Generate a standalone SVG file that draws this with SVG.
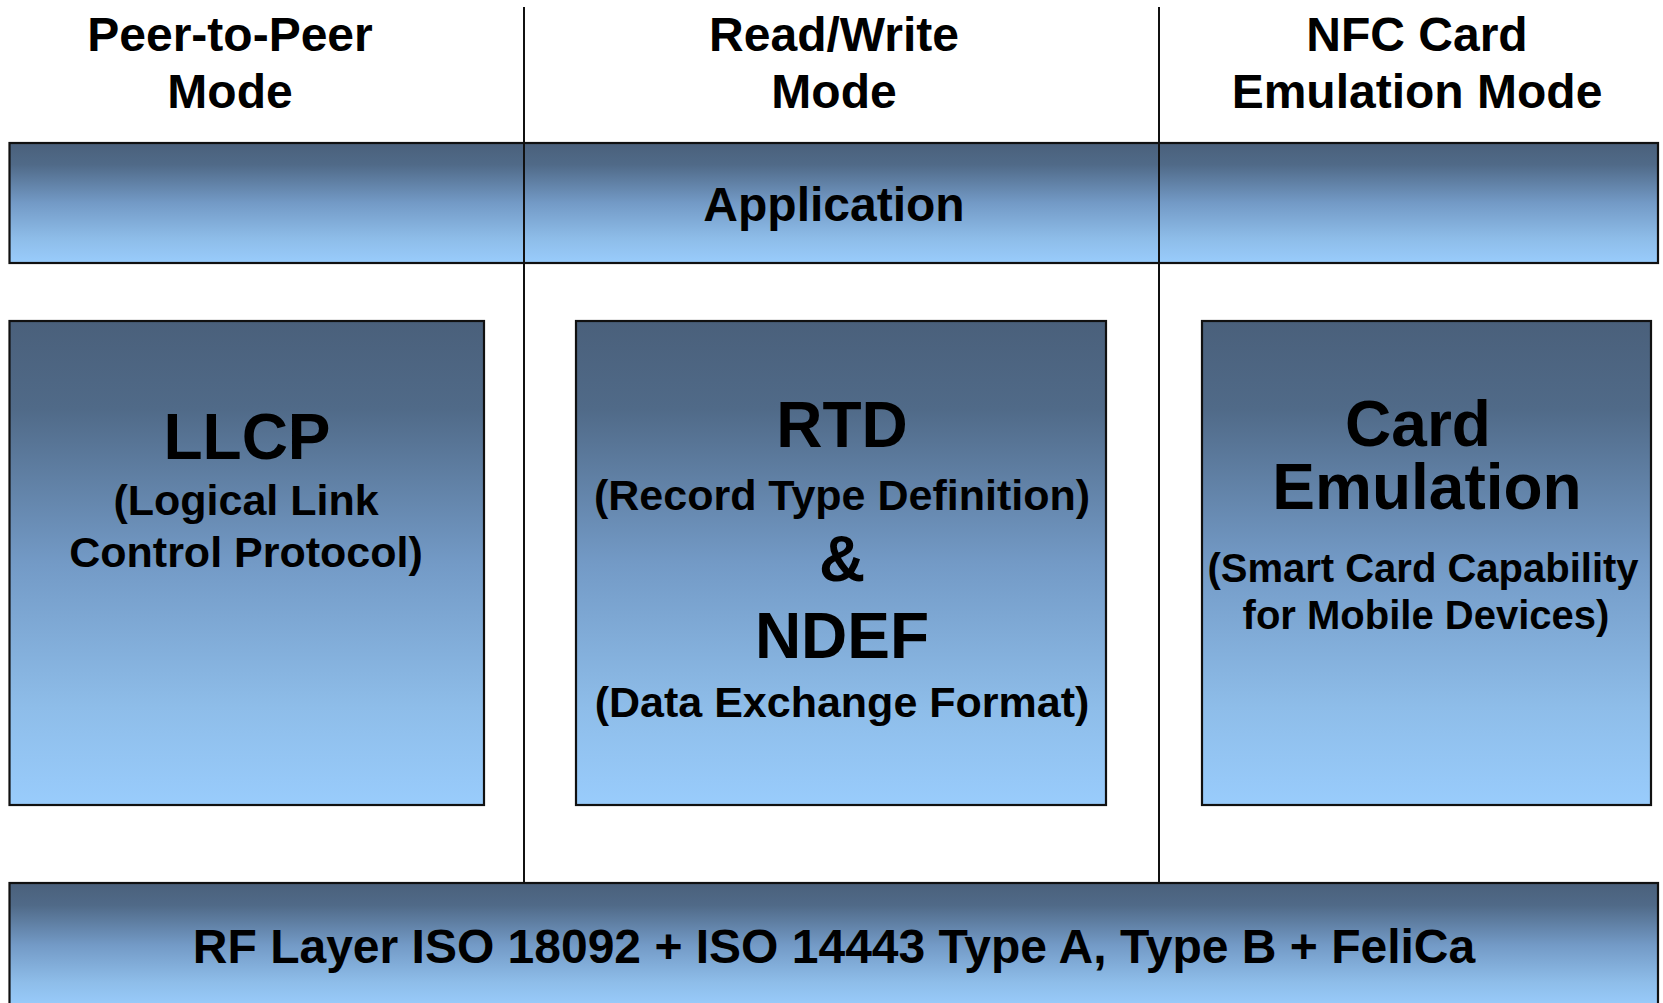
<svg xmlns="http://www.w3.org/2000/svg" width="1663" height="1003" viewBox="0 0 1663 1003">
<style>
.box{stroke:#111;stroke-width:2.2}
.t{font-family:"Liberation Sans",Arial,Helvetica,sans-serif;font-weight:bold;fill:#000;text-anchor:middle}
.h{font-size:48px}
.big{font-size:64px}
.sub{font-size:43px}
.sub2{font-size:40px}
.div{stroke:#111;stroke-width:2}
</style>
<defs>
<linearGradient id="g" x1="0" y1="0" x2="0" y2="1">
<stop offset="0" stop-color="#4a607b"/>
<stop offset="0.18" stop-color="#506a88"/>
<stop offset="0.5" stop-color="#739ac6"/>
<stop offset="0.8" stop-color="#8ebde9"/>
<stop offset="1" stop-color="#99ccfc"/>
</linearGradient>
</defs>
<rect width="1663" height="1003" fill="#fff"/>

<g id="header-p2p">
<text class="t h" x="230" y="51">Peer-to-Peer</text>
<text class="t h" x="230" y="108">Mode</text>
</g>
<g id="header-rw">
<text class="t h" x="834" y="51">Read/Write</text>
<text class="t h" x="834" y="108">Mode</text>
</g>
<g id="header-ce">
<text class="t h" x="1417" y="51">NFC Card</text>
<text class="t h" x="1417" y="108">Emulation Mode</text>
</g>

<g id="application">
<rect class="box" x="9.5" y="143" width="1648.5" height="120" fill="url(#g)"/>
<text class="t h" x="834" y="221">Application</text>
</g>

<g id="llcp">
<rect class="box" x="9.5" y="321" width="474.5" height="484" fill="url(#g)"/>
<text class="t big" x="247" y="459">LLCP</text>
<text class="t sub" x="246" y="515">(Logical Link</text>
<text class="t sub" x="246" y="567">Control Protocol)</text>
</g>

<g id="rtd-ndef">
<rect class="box" x="576" y="321" width="530" height="484" fill="url(#g)"/>
<text class="t big" x="842" y="447">RTD</text>
<text class="t sub" x="842" y="510">(Record Type Definition)</text>
<text class="t big" x="842" y="581">&amp;</text>
<text class="t big" x="842" y="658">NDEF</text>
<text class="t sub" x="842" y="717">(Data Exchange Format)</text>
</g>

<g id="card-emulation">
<rect class="box" x="1202" y="321" width="449" height="484" fill="url(#g)"/>
<text class="t big" x="1418" y="446">Card</text>
<text class="t big" x="1427" y="509">Emulation</text>
<text class="t sub2" x="1423" y="582">(Smart Card Capability</text>
<text class="t sub2" x="1426" y="629">for Mobile Devices)</text>
</g>

<g id="rf-layer">
<rect class="box" x="9.5" y="883" width="1648.5" height="124" fill="url(#g)"/>
<text class="t h" x="834" y="963">RF Layer ISO 18092 + ISO 14443 Type A, Type B + FeliCa</text>
</g>

<g id="connectors">
<line class="div" x1="524" y1="7" x2="524" y2="883"/>
<line class="div" x1="1159" y1="7" x2="1159" y2="883"/>
</g>
</svg>
